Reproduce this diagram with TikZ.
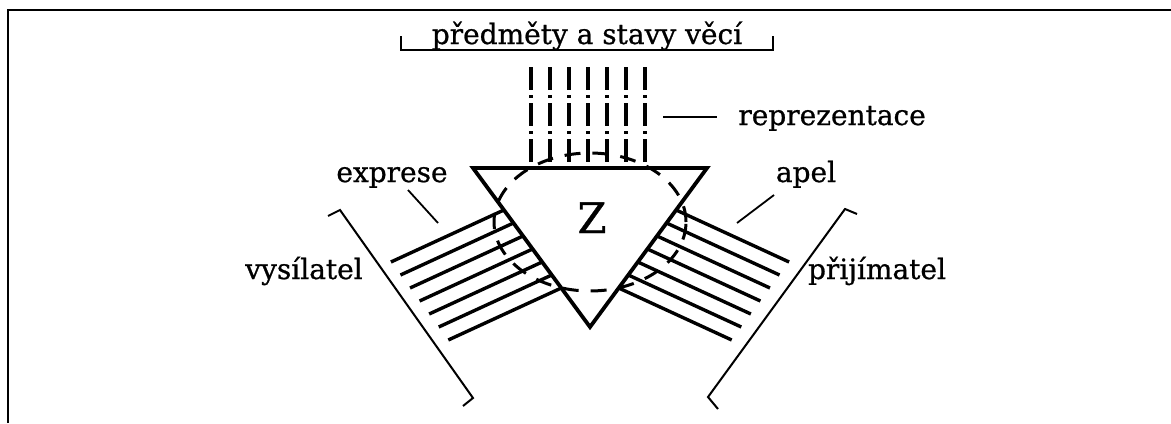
\documentclass[tikz,border=0pt]{standalone}
\usepackage{fontspec}
\setmainfont{DejaVu Serif}[FakeBold=0.8]
\usetikzlibrary{calc}
\definecolor{orgInk}{HTML}{000000}
\tikzset{
  org/frame/.style={draw=orgInk, line width=1.1pt},
  org/edge/.style={draw=orgInk, line width=1.9pt, line join=miter},
  org/hatch/.style={draw=orgInk, line width=1.7pt},
  org/beam/.style={draw=orgInk, line width=1.7pt,
    dash pattern=on 11.5pt off 2.6pt on 1.3pt off 2.6pt},
  org/field/.style={draw=orgInk, line width=1.5pt, dash pattern=on 8pt off 6pt},
  org/bracket/.style={draw=orgInk, line width=1pt},
  org/leader/.style={draw=orgInk, line width=0.9pt},
  org/label/.style={font=\fontsize{14}{17}\selectfont, text=orgInk,
    inner sep=0pt},
}

\begin{document}
\begin{tikzpicture}[x=0.5pt, y=-0.5pt]
\useasboundingbox (0,0) rectangle (1171,423);
\draw[org/frame] (8,423) -- (8,10) -- (1171,10);

% sign triangle
\coordinate (tl) at (473,168);
\coordinate (tr) at (707,168);
\coordinate (bot) at (590,327);
\node[font=\fontsize{21}{24}\selectfont, inner sep=0pt, anchor=base] (sign) at (592,233) {Z};

% objects and states of affairs
\node[org/label, anchor=base] (objects) at (587,44) {předměty a stavy věcí};
\draw[org/bracket] (401,36) |- (773,50) -- (773,36);
\foreach \x in {531,550,...,645}
  \draw[org/beam] (\x,67) -- (\x,168);
\coordinate (repA) at (663,117);
\coordinate (repB) at (717,117);
\node[org/label, anchor=base west] (repr) at (738,125) {reprezentace};
\draw[org/leader] (repA) -- (repB);

% sender and receiver
\foreach \k in {0,...,6}{
  \draw[org/hatch] ($(tl)!{(42+13*\k)/159}!(bot)$) -- ++(-113,52);
  \draw[org/hatch] ($(tr)!{(42+13*\k)/159}!(bot)$) -- ++(113,52);
}
\draw[org/bracket] (328,216) -- (340,210) -- (473,398) -- (463,406);
\draw[org/bracket] (857,214) -- (845,209) -- (708,397) -- (718,409);

\draw[org/field] (590,222) ellipse [x radius=48pt, y radius=34.5pt];
\draw[org/edge] (tl) -- (tr) -- (bot) -- cycle;

\node[org/label, anchor=base] (expr) at (392,182) {exprese};
\coordinate (exA) at (408,190);
\coordinate (exB) at (438,223);
\draw[org/leader] (exA) -- (exB);
\node[org/label, anchor=base] (apel) at (806,182) {apel};
\coordinate (apA) at (774,195);
\coordinate (apB) at (737,223);
\draw[org/leader] (apA) -- (apB);

\node[org/label, anchor=base] (sender) at (304,279) {vysílatel};
\node[org/label, anchor=base] (receiver) at (877,279) {přijímatel};
\end{tikzpicture}
\end{document}
